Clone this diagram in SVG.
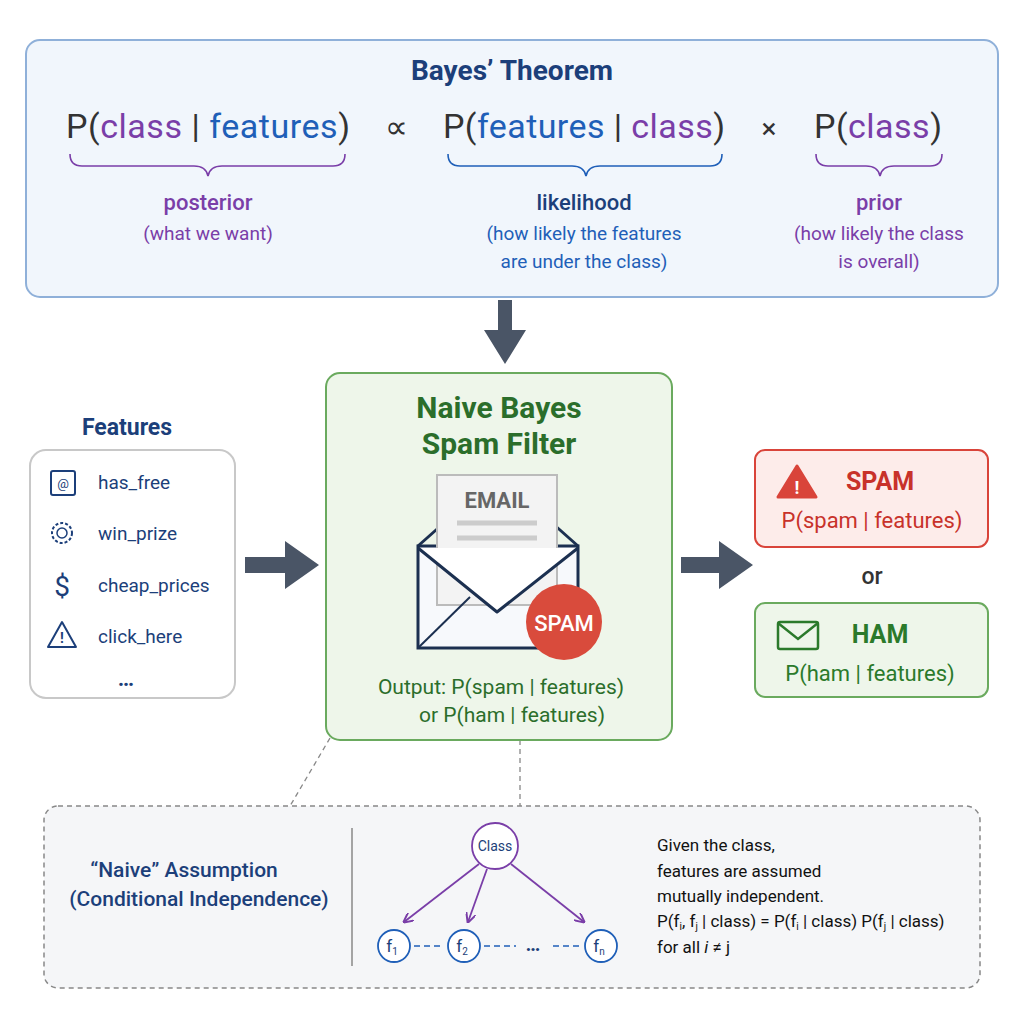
<svg xmlns="http://www.w3.org/2000/svg" width="1024" height="1024" viewBox="0 0 1024 1024">
<defs>
<style>
text{font-family:Roboto,"Liberation Sans",sans-serif}
.pur{fill:#7a3ea8}.blu{fill:#1f5fb8}.dk{fill:#333}.nv{fill:#1c3f7a}
.brace{fill:none;stroke:#7a3ea8;stroke-width:1.6}
.brb{fill:none;stroke:#1f5fb8;stroke-width:1.6}
.big{stroke:none;fill:#4a5566}
</style>
<marker id="pa" markerWidth="10" markerHeight="10" refX="9" refY="5" orient="auto" markerUnits="userSpaceOnUse"><path d="M0,0 L10,5 L0,10" fill="none" stroke="#7a3ea8" stroke-width="2"/></marker>
</defs>
<rect width="1024" height="1024" fill="#fff"/>
<g id="theorem">
<rect x="26" y="40" width="972" height="257" rx="14" fill="#f1f6fc" stroke="#8fb0d9" stroke-width="2"/>
<text x="512" y="80" text-anchor="middle" font-size="28" font-weight="bold" fill="#1c3f7a">Bayes’ Theorem</text>
<text x="66" y="138" font-size="34" class="dk" textLength="284">P(<tspan class="pur">class</tspan> | <tspan class="blu">features</tspan>)</text>
<text x="396" y="138" text-anchor="middle" font-size="32" class="dk">∝</text>
<text x="443" y="138" font-size="34" class="dk" textLength="282">P(<tspan class="blu">features</tspan> | <tspan class="pur">class</tspan>)</text>
<text x="769" y="138" text-anchor="middle" font-size="28" class="dk">×</text>
<text x="814" y="138" font-size="34" class="dk" textLength="128">P(<tspan class="pur">class</tspan>)</text>
<path class="brace" d="M70,154 q0,12 12,12 H194 q12,0 14,10 q2,-10 14,-10 H333 q12,0 12,-12"/>
<path class="brb" d="M448,154 q0,12 12,12 H572 q12,0 14,10 q2,-10 14,-10 H710 q12,0 12,-12"/>
<path class="brace" d="M816,154 q0,12 12,12 H866 q12,0 14,10 q2,-10 14,-10 H930 q12,0 12,-12"/>
<text x="208" y="210" text-anchor="middle" font-size="22" class="pur" font-weight="500">posterior</text>
<text x="208" y="240" text-anchor="middle" font-size="19" class="pur">(what we want)</text>
<text x="584" y="210" text-anchor="middle" font-size="22" font-weight="500" fill="#1c3f7a">likelihood</text>
<text x="584" y="240" text-anchor="middle" font-size="19" class="blu">(how likely the features</text>
<text x="584" y="268" text-anchor="middle" font-size="19" class="blu">are under the class)</text>
<text x="879" y="210" text-anchor="middle" font-size="22" class="pur" font-weight="500">prior</text>
<text x="879" y="240" text-anchor="middle" font-size="19" class="pur">(how likely the class</text>
<text x="879" y="268" text-anchor="middle" font-size="19" class="pur">is overall)</text>
</g>
<g id="connectors">
<path class="big" d="M498,300 h14 v30 h14 l-21,34 l-21,-34 h14 z"/>
<path class="big" d="M245,557 h40 v-16 l34,24 l-34,24 v-16 h-40 z"/>
<path class="big" d="M681,557 h38 v-16 l34,24 l-34,24 v-16 h-38 z"/>
<line x1="330" y1="738" x2="290" y2="806" stroke="#888" stroke-width="1.3" stroke-dasharray="5,4"/>
<line x1="520" y1="740" x2="520" y2="806" stroke="#888" stroke-width="1.3" stroke-dasharray="5,4"/>
</g>
<g id="features">
<text x="127" y="435" text-anchor="middle" font-size="23" font-weight="bold" class="nv">Features</text>
<rect x="30" y="450" width="205" height="248" rx="16" fill="#fff" stroke="#c8c8c8" stroke-width="2"/>
<rect x="51" y="471" width="24" height="24" rx="2" fill="none" stroke="#1c3f7a" stroke-width="2"/>
<text x="63" y="488" text-anchor="middle" font-size="13" class="nv">@</text>
<circle cx="62" cy="533" r="10" fill="none" stroke="#1c3f7a" stroke-width="2" stroke-dasharray="3,2"/>
<circle cx="62" cy="533" r="5" fill="none" stroke="#1c3f7a" stroke-width="1.5"/>
<text x="62" y="596" text-anchor="middle" font-size="28" class="nv">$</text>
<path d="M62,622 L76,647 H48 Z" fill="none" stroke="#1c3f7a" stroke-width="2" stroke-linejoin="round"/>
<text x="62" y="643" text-anchor="middle" font-size="14" font-weight="bold" class="nv">!</text>
<g font-size="19" class="nv">
<text x="98" y="489">has_free</text><text x="98" y="540">win_prize</text>
<text x="98" y="592">cheap_prices</text><text x="98" y="643">click_here</text>
</g>
<text x="126" y="686" text-anchor="middle" font-size="22" font-weight="bold" class="nv">…</text>
</g>
<g id="filter">
<rect x="326" y="373" width="346" height="367" rx="14" fill="#eef6ea" stroke="#6aaa5e" stroke-width="2"/>
<text x="499" y="418" text-anchor="middle" font-size="30" font-weight="bold" fill="#2b6e2b">Naive Bayes</text>
<text x="499" y="454" text-anchor="middle" font-size="30" font-weight="bold" fill="#2b6e2b">Spam Filter</text>
<rect x="418" y="546" width="160" height="102" fill="#f7f9fc" stroke="#1c3050" stroke-width="3"/>
<path d="M418,546 L445,522 M578,546 L551,522" stroke="#1c3050" stroke-width="3"/>
<rect x="437" y="475" width="120" height="130" fill="#f3f3f3" stroke="#bbb" stroke-width="2"/>
<text x="497" y="508" text-anchor="middle" font-size="22" font-weight="bold" fill="#666">EMAIL</text>
<g stroke="#ccc" stroke-width="5"><line x1="457" y1="523" x2="537" y2="523"/><line x1="457" y1="538" x2="537" y2="538"/><line x1="457" y1="555" x2="537" y2="555"/><line x1="457" y1="571" x2="510" y2="571"/></g>
<path d="M418,548 L497,612 L578,548" fill="#fff" stroke="#1c3050" stroke-width="3" stroke-linejoin="round"/>
<path d="M418,648 L470,597" stroke="#1c3050" stroke-width="2"/>
<circle cx="564" cy="622" r="38" fill="#d94b3c"/>
<text x="564" y="631" text-anchor="middle" font-size="22" font-weight="500" fill="#fff">SPAM</text>
<text x="501" y="694" text-anchor="middle" font-size="21" fill="#2b6e2b">Output: P(spam | features)</text>
<text x="512" y="722" text-anchor="middle" font-size="21" fill="#2b6e2b">or P(ham | features)</text>
</g>
<g id="spam">
<rect x="755" y="450" width="233" height="97" rx="10" fill="#fdecea" stroke="#d9443a" stroke-width="2"/>
<path d="M797,466 L816,497 H778 Z" fill="#d9443a" stroke="#d9443a" stroke-width="3" stroke-linejoin="round"/>
<text x="797" y="494" text-anchor="middle" font-size="18" font-weight="bold" fill="#fff">!</text>
<text x="880" y="490" text-anchor="middle" font-size="25" font-weight="bold" fill="#c8322a">SPAM</text>
<text x="872" y="528" text-anchor="middle" font-size="22" fill="#c8322a">P(spam | features)</text>
</g>
<text x="872" y="584" text-anchor="middle" font-size="23" font-weight="500" fill="#333">or</text>
<g id="ham">
<rect x="755" y="603" width="233" height="94" rx="10" fill="#eef6ea" stroke="#6aaa5e" stroke-width="2"/>
<rect x="778" y="622" width="40" height="27" rx="2" fill="none" stroke="#2b7a2b" stroke-width="2.5"/>
<path d="M778,623 L798,639 L818,623" fill="none" stroke="#2b7a2b" stroke-width="2.5"/>
<text x="880" y="643" text-anchor="middle" font-size="25" font-weight="bold" fill="#2b7a2b">HAM</text>
<text x="870" y="681" text-anchor="middle" font-size="22" fill="#2b7a2b">P(ham | features)</text>
</g>
<g id="assumption">
<rect x="44" y="806" width="936" height="182" rx="14" fill="#f5f6f8" stroke="#888" stroke-width="1.5" stroke-dasharray="5,4"/>
<text x="184" y="877" text-anchor="middle" font-size="21" font-weight="500" class="nv">“Naive” Assumption</text>
<text x="199" y="906" text-anchor="middle" font-size="21" font-weight="500" class="nv">(Conditional Independence)</text>
<line x1="352" y1="828" x2="352" y2="966" stroke="#888" stroke-width="1.5"/>
<circle cx="495" cy="846" r="23" fill="#fff" stroke="#7a3ea8" stroke-width="1.8"/>
<text x="495" y="851" text-anchor="middle" font-size="14" class="nv">Class</text>
<g stroke="#7a3ea8" stroke-width="1.8" marker-end="url(#pa)">
<line x1="479" y1="864" x2="404" y2="922"/><line x1="487" y1="869" x2="468" y2="922"/><line x1="511" y1="864" x2="584" y2="922"/>
</g>
<g fill="#fff" stroke="#1f5fb8" stroke-width="1.8">
<circle cx="394" cy="946" r="16"/><circle cx="464" cy="946" r="16"/><circle cx="601" cy="946" r="16"/>
</g>
<g stroke="#1f5fb8" stroke-width="1.5" stroke-dasharray="6,4"><line x1="414" y1="946" x2="444" y2="946"/><line x1="484" y1="946" x2="516" y2="946"/><line x1="553" y1="946" x2="580" y2="946"/></g>
<text x="533" y="951" text-anchor="middle" font-size="20" font-weight="bold" class="nv">…</text>
<g font-size="17" class="nv" text-anchor="middle">
<text x="392" y="952">f<tspan font-size="10" dy="3">1</tspan></text>
<text x="462" y="952">f<tspan font-size="10" dy="3">2</tspan></text>
<text x="599" y="952">f<tspan font-size="10" dy="3">n</tspan></text>
</g>
<g font-size="17" fill="#111">
<text x="657" y="851">Given the class,</text>
<text x="657" y="877">features are assumed</text>
<text x="657" y="902">mutually independent.</text>
<text x="657" y="927">P(f<tspan font-size="10" dy="3">i</tspan><tspan dy="-3">, f</tspan><tspan font-size="10" dy="3">j</tspan><tspan dy="-3"> | class) = P(f</tspan><tspan font-size="10" dy="3">i</tspan><tspan dy="-3"> | class) P(f</tspan><tspan font-size="10" dy="3">j</tspan><tspan dy="-3"> | class)</tspan></text>
<text x="657" y="953">for all <tspan font-style="italic">i</tspan> ≠ j</text>
</g>
</g>
</svg>
